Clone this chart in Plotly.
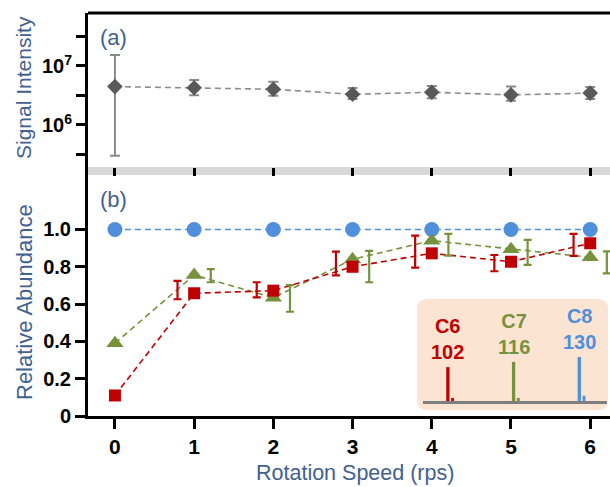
import plotly.graph_objects as go

# Rotation speed (rps)
speed = [0, 1, 2, 3, 4, 5, 6]

# (a) Signal intensity with asymmetric error limits
signal = [4.47e6, 4.27e6, 4.03e6, 3.31e6, 3.59e6, 3.24e6, 3.47e6]
signal_hi = [1.53e7, 5.8e6, 5.42e6, 4.24e6, 4.57e6, 4.47e6, 4.4e6]
signal_lo = [3.0e5, 3.2e6, 3.14e6, 2.76e6, 2.84e6, 2.58e6, 2.76e6]
signal_ticks = [1e6, 1e7]
signal_ticktext = ["10<sup>6</sup>", "10<sup>7</sup>"]
signal_minor = [10 ** 5.5, 10 ** 6.5, 10 ** 7.5]

# (b) Relative abundance of the C6 / C7 / C8 species
c8 = [1.0, 1.0, 1.0, 1.0, 1.0, 1.0, 1.0]
c7 = [0.39, 0.756, 0.634, 0.84, 0.94, 0.894, 0.851]
c6 = [0.11, 0.658, 0.672, 0.80, 0.872, 0.827, 0.926]

# error ranges (drawn beside each marker)
err_speed = [1, 2, 3, 4, 5, 6]
c6_err_lo = [0.626, 0.636, 0.754, 0.795, 0.776, 0.858]
c6_err_hi = [0.724, 0.717, 0.881, 0.967, 0.863, 0.976]
c7_err_lo = [0.717, 0.559, 0.717, 0.860, 0.810, 0.765]
c7_err_hi = [0.787, 0.702, 0.885, 0.976, 0.944, 0.883]

# inset mass spectrum sticks
mz_names = ["C6", "C7", "C8"]
mz = [102, 116, 130]
peak_height = [0.77, 0.89, 1.0]
iso_mz = [103, 117, 131]
iso_height = [0.07, 0.07, 0.12]

RED = "#c00000"
GREEN = "#76923c"
BLUE = "#4f8fdb"
TITLE = "#41618f"
FONT = "Liberation Sans"

W, H = 610, 487
ML, MR, MT, MB = 88, 0, 13, 71
PW, PH = W - ML - MR, H - MT - MB


def px_x(px):
    return (px - ML) / PW


def px_y(py):
    return (H - MB - py) / PH


fig = go.Figure()

# ---- panel (a)
fig.add_trace(go.Scatter(
    x=speed, y=signal, xaxis="x2", yaxis="y2", mode="lines+markers",
    line=dict(color="#8c8c8c", width=1.6, dash="6px,4px"),
    marker=dict(symbol="diamond", size=12, color="#595959"),
    error_y=dict(type="data", symmetric=False,
                 array=[h - v for h, v in zip(signal_hi, signal)],
                 arrayminus=[v - l for v, l in zip(signal, signal_lo)],
                 color="#8a8a8a", thickness=2, width=5),
    showlegend=False,
))

# ---- panel (b)
series = [(c8, BLUE, "circle", 15), (c7, GREEN, "triangle-up", 15), (c6, RED, "square", 12)]
for vals, col, sym, sz in series:
    fig.add_trace(go.Scatter(
        x=speed, y=vals, mode="lines+markers",
        line=dict(color=col, width=1.6, dash="6px,4px"),
        marker=dict(symbol=sym, size=sz, color=col),
        showlegend=False,
    ))

for lo, hi, col, dx in [(c7_err_lo, c7_err_hi, GREEN, 0.21), (c6_err_lo, c6_err_hi, RED, -0.21)]:
    fig.add_trace(go.Scatter(
        x=[s + dx for s in err_speed],
        y=[(a + b) / 2 for a, b in zip(lo, hi)],
        mode="markers", marker=dict(size=1, color="rgba(0,0,0,0)"),
        error_y=dict(type="data", array=[(b - a) / 2 for a, b in zip(lo, hi)],
                     color=col, thickness=2.2, width=4),
        showlegend=False,
    ))

# ---- inset spectrum
stick_cols = [RED, GREEN, BLUE]
fig.add_trace(go.Bar(x=mz, y=peak_height, xaxis="x3", yaxis="y3", width=0.7,
                     marker=dict(color=stick_cols, line=dict(width=0)), showlegend=False))
fig.add_trace(go.Bar(x=iso_mz, y=iso_height, xaxis="x3", yaxis="y3", width=0.6,
                     marker=dict(color=stick_cols, line=dict(width=0)), showlegend=False))

ytick_font = dict(family=FONT, size=20, color="black", weight="bold")
xtick_font = dict(family=FONT, size=21, color="black", weight="bold")

fig.update_layout(
    width=W, height=H,
    margin=dict(l=ML, r=MR, t=MT, b=MB),
    plot_bgcolor="rgba(0,0,0,0)", paper_bgcolor="white",
    barmode="overlay",
    xaxis=dict(domain=[0, 1], range=[-0.34, 6.25], anchor="y",
               tickvals=speed, ticktext=[str(s) for s in speed],
               showline=True, linecolor="black", linewidth=3,
               ticks="outside", ticklen=10, tickwidth=3, tickcolor="black",
               tickfont=xtick_font, showgrid=False, zeroline=False),
    yaxis=dict(domain=[0, px_y(175)], range=[0, 1.292], anchor="x",
               tickvals=[0, 0.2, 0.4, 0.6, 0.8, 1.0],
               ticktext=["0", "0.2", "0.4", "0.6", "0.8", "1.0"],
               showline=True, linecolor="black", linewidth=3,
               ticks="outside", ticklen=10, tickwidth=3, tickcolor="black",
               tickfont=ytick_font, showgrid=False, zeroline=False),
    xaxis2=dict(domain=[0, 1], range=[-0.34, 6.25], anchor="y2",
                tickvals=speed, showticklabels=False, showline=False,
                ticks="outside", ticklen=8, tickwidth=3, tickcolor="black",
                showgrid=False, zeroline=False),
    yaxis2=dict(domain=[px_y(167), 1], type="log", range=[5.288, 7.898], anchor="x2",
                tickvals=signal_ticks, ticktext=signal_ticktext,
                minor=dict(tickvals=signal_minor, ticks="outside", ticklen=9,
                           tickwidth=3, tickcolor="black", showgrid=False),
                showline=True, linecolor="black", linewidth=3,
                ticks="outside", ticklen=9, tickwidth=3, tickcolor="black",
                tickfont=ytick_font, showgrid=False, zeroline=False),
    xaxis3=dict(domain=[px_x(423), px_x(607)], range=[96.7, 135.9], anchor="y3",
                showline=True, linecolor="#7f7f7f", linewidth=3,
                showticklabels=False, ticks="", showgrid=False, zeroline=False),
    yaxis3=dict(domain=[px_y(401), px_y(357)], range=[0, 1], anchor="x3",
                visible=False),
)

# rounded inset background
bx0, bx1, by0, by1, r = px_x(417), px_x(608), px_y(410), px_y(299), 10
rx, ry = r / PW, r / PH
path = (f"M {bx0 + rx},{by1} L {bx1 - rx},{by1} Q {bx1},{by1} {bx1},{by1 - ry} "
        f"L {bx1},{by0 + ry} Q {bx1},{by0} {bx1 - rx},{by0} "
        f"L {bx0 + rx},{by0} Q {bx0},{by0} {bx0},{by0 + ry} "
        f"L {bx0},{by1 - ry} Q {bx0},{by1} {bx0 + rx},{by1} Z")
fig.add_shape(type="path", path=path, xref="paper", yref="paper",
              fillcolor="#fce4d3", line=dict(width=0), layer="below")

# separator band between panels, panel (a) top frame and axis continuation
fig.add_shape(type="rect", xref="paper", yref="paper", x0=0, x1=1,
              y0=px_y(175), y1=px_y(167), fillcolor="#d9d9d9",
              line=dict(width=0), layer="below")
fig.add_shape(type="line", xref="paper", yref="paper", x0=0, x1=1, y0=1, y1=1,
              line=dict(color="black", width=3))
fig.add_shape(type="line", xref="paper", yref="paper", x0=-1.5 / PW, x1=-1.5 / PW,
              y0=px_y(176), y1=px_y(166), line=dict(color="black", width=3))

ann = []
for name, m, h, col in zip(mz_names, mz, peak_height, stick_cols):
    ann.append(dict(x=m, y=h, xref="x3", yref="y3", text=f"<b>{name}<br>{m}</b>",
                    showarrow=False, yanchor="bottom", yshift=2,
                    font=dict(family=FONT, size=20, color=col)))
ann += [
    dict(x=px_x(98), y=px_y(37), xref="paper", yref="paper", text="(a)", showarrow=False,
         xanchor="left", yanchor="middle", font=dict(family=FONT, size=22, color=TITLE)),
    dict(x=px_x(98), y=px_y(199), xref="paper", yref="paper", text="(b)", showarrow=False,
         xanchor="left", yanchor="middle", font=dict(family=FONT, size=22, color=TITLE)),
    dict(x=px_x(24), y=px_y(88), xref="paper", yref="paper", text="Signal Intensity",
         textangle=-90, showarrow=False, xanchor="center", yanchor="middle",
         font=dict(family=FONT, size=21, color=TITLE)),
    dict(x=px_x(24), y=px_y(302), xref="paper", yref="paper", text="Relative Abundance",
         textangle=-90, showarrow=False, xanchor="center", yanchor="middle",
         font=dict(family=FONT, size=22, color=TITLE)),
    dict(x=px_x(354.5), y=px_y(472.5), xref="paper", yref="paper", text="Rotation Speed (rps)",
         showarrow=False, xanchor="center", yanchor="middle",
         font=dict(family=FONT, size=21.5, color=TITLE)),
]
fig.update_layout(annotations=ann)

fig.write_html("out.html")
